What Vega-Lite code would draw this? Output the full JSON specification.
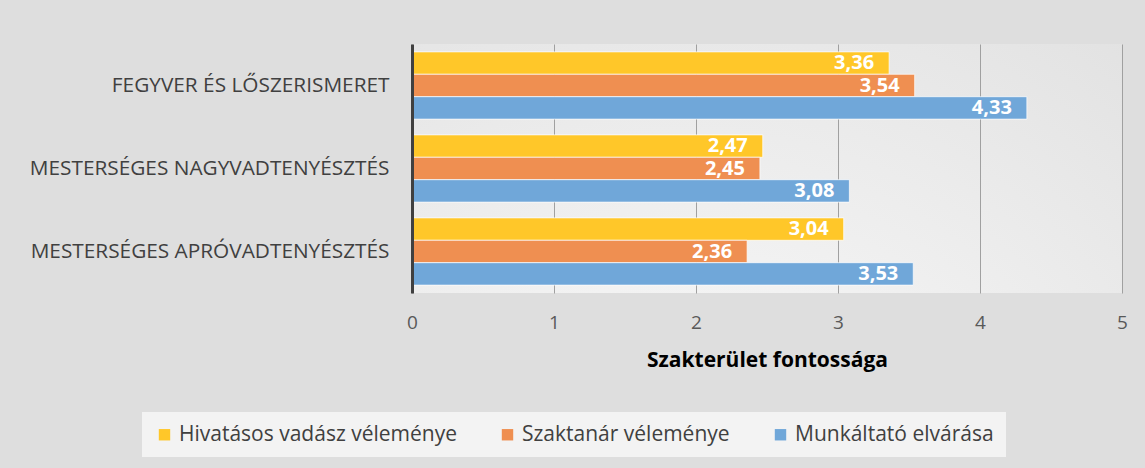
{
  "$schema": "https://vega.github.io/schema/vega-lite/v6.json",
  "width": 710,
  "height": 249,
  "autosize": {"type": "none"},
  "padding": {"left": 412, "top": 44, "right": 23, "bottom": 175},
  "background": "#dedede",
  "config": {
    "font": "Open Sans",
    "locale": {"number": {"decimal": ",", "thousands": " ", "grouping": [3], "currency": ["", " Ft"]}},
    "view": {
      "stroke": null,
      "fill": {
        "gradient": "radial",
        "x1": 0.4, "y1": 1.1, "r1": 0,
        "x2": 0.4, "y2": 1.1, "r2": 1.2,
        "stops": [
          {"offset": 0, "color": "#ffffff"},
          {"offset": 1, "color": "#dcdcdc"}
        ]
      }
    }
  },
  "data": {
    "values": [
      {"cat": "FEGYVER ÉS LŐSZERISMERET", "series": "Hivatásos vadász véleménye", "value": 3.36},
      {"cat": "FEGYVER ÉS LŐSZERISMERET", "series": "Szaktanár véleménye", "value": 3.54},
      {"cat": "FEGYVER ÉS LŐSZERISMERET", "series": "Munkáltató elvárása", "value": 4.33},
      {"cat": "MESTERSÉGES NAGYVADTENYÉSZTÉS", "series": "Hivatásos vadász véleménye", "value": 2.47},
      {"cat": "MESTERSÉGES NAGYVADTENYÉSZTÉS", "series": "Szaktanár véleménye", "value": 2.45},
      {"cat": "MESTERSÉGES NAGYVADTENYÉSZTÉS", "series": "Munkáltató elvárása", "value": 3.08},
      {"cat": "MESTERSÉGES APRÓVADTENYÉSZTÉS", "series": "Hivatásos vadász véleménye", "value": 3.04},
      {"cat": "MESTERSÉGES APRÓVADTENYÉSZTÉS", "series": "Szaktanár véleménye", "value": 2.36},
      {"cat": "MESTERSÉGES APRÓVADTENYÉSZTÉS", "series": "Munkáltató elvárása", "value": 3.53}
    ]
  },
  "encoding": {
    "y": {
      "field": "cat",
      "type": "nominal",
      "sort": ["FEGYVER ÉS LŐSZERISMERET", "MESTERSÉGES NAGYVADTENYÉSZTÉS", "MESTERSÉGES APRÓVADTENYÉSZTÉS"],
      "scale": {"paddingInner": 0.19, "paddingOuter": 0.095},
      "axis": {
        "title": null,
        "labelFontSize": 20.8,
        "labelColor": "#404040",
        "ticks": false,
        "labelPadding": 23,
        "labelLimit": 0,
        "domainColor": "#404040",
        "domainWidth": 3,
        "grid": false,
        "zindex": 1
      }
    },
    "yOffset": {
      "field": "series",
      "type": "nominal",
      "sort": ["Hivatásos vadász véleménye", "Szaktanár véleménye", "Munkáltató elvárása"]
    },
    "x": {
      "field": "value",
      "type": "quantitative",
      "scale": {"domain": [0, 5], "nice": false},
      "axis": {
        "values": [0, 1, 2, 3, 4, 5],
        "format": "d",
        "grid": true,
        "gridColor": "#a0a0a0",
        "gridWidth": 1,
        "domain": false,
        "ticks": false,
        "labelFlush": false,
        "labelFontSize": 19,
        "labelColor": "#595959",
        "labelPadding": 20,
        "title": "Szakterület fontossága",
        "titleFontSize": 21,
        "titleFontWeight": "bold",
        "titleColor": "#000000",
        "titlePadding": 17,
        "zindex": 0
      }
    }
  },
  "layer": [
    {
      "mark": {"type": "bar", "stroke": "#ffffff", "strokeWidth": 1, "strokeOpacity": 0.7},
      "encoding": {
        "color": {
          "field": "series",
          "type": "nominal",
          "scale": {
            "domain": ["Hivatásos vadász véleménye", "Szaktanár véleménye", "Munkáltató elvárása"],
            "range": ["#FFC729", "#EF8F51", "#70A7D9"]
          },
          "legend": {
            "orient": "none",
            "legendX": -270,
            "legendY": 368,
            "direction": "horizontal",
            "title": null,
            "fillColor": "#f3f3f3",
            "padding": 12,
            "labelFontSize": 21,
            "labelColor": "#404040",
            "labelLimit": 0,
            "labelOffset": 4,
            "symbolType": "square",
            "symbolSize": 130,
            "symbolStrokeWidth": 0,
            "columnPadding": 40
          }
        }
      }
    },
    {
      "mark": {"type": "text", "align": "right", "baseline": "middle", "dx": -15, "color": "#ffffff", "fontWeight": "bold", "fontSize": 20},
      "encoding": {
        "text": {"field": "value", "type": "quantitative", "format": ".2f"}
      }
    }
  ]
}
